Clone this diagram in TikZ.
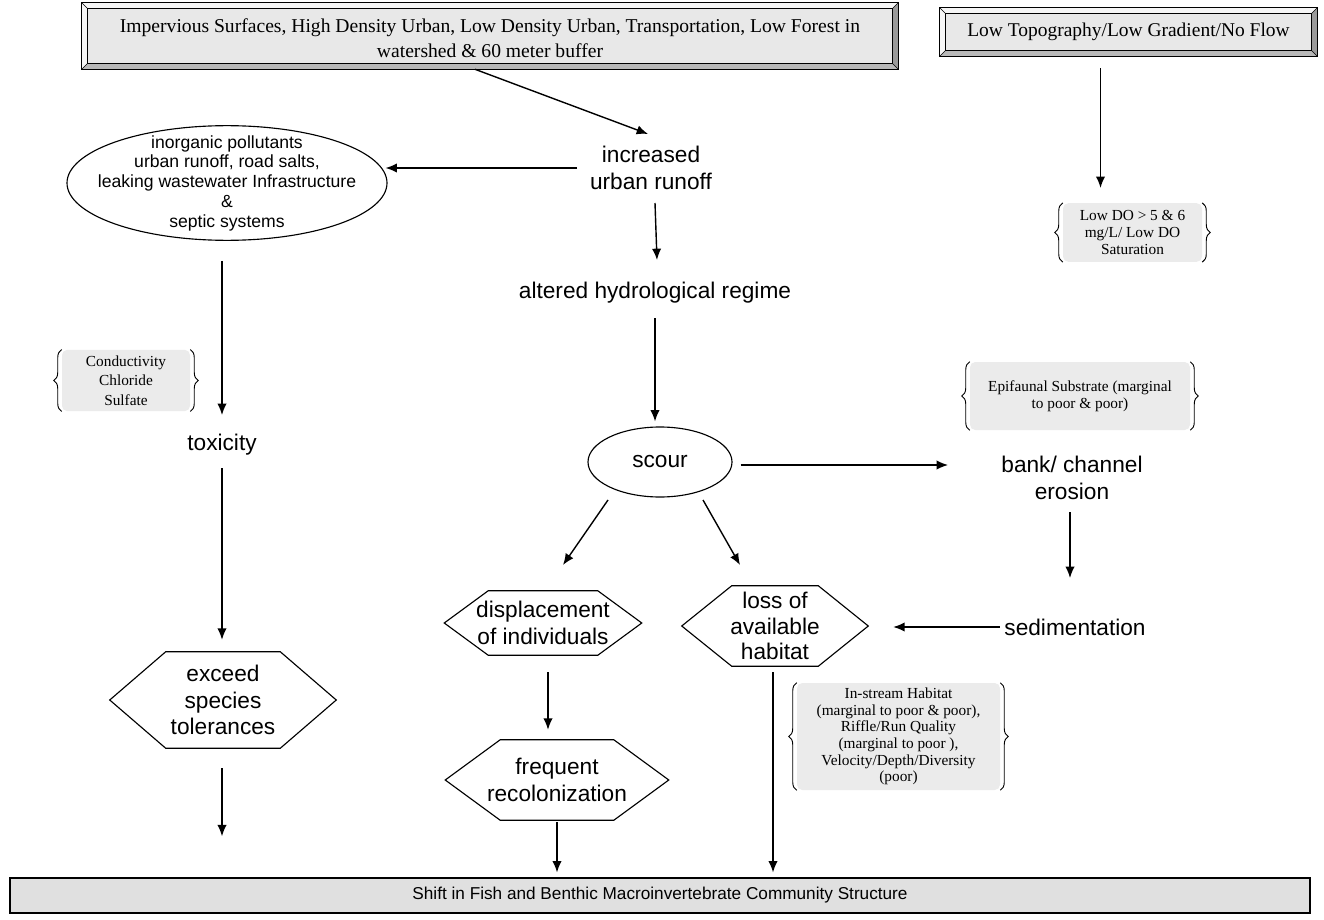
\documentclass[tikz,border=0pt]{standalone}
\usepackage{fontspec}
\setmainfont{Liberation Serif}
\newfontfamily\arial{Liberation Sans}
\usetikzlibrary{arrows.meta,calc,decorations.pathreplacing,shapes.geometric}
\definecolor{face}{HTML}{E8E8E8}
\definecolor{bevlight}{HTML}{F6F6F6}
\definecolor{bevmid}{HTML}{B8B8B8}
\definecolor{bevdark}{HTML}{9A9A9A}
\definecolor{bracefill}{HTML}{EBEBEB}
\definecolor{botfill}{HTML}{E0E0E0}
\newcommand\bevelize[1]{%
  \fill[bevlight] (#1.north west) -- (#1.north east) -- ($(#1.north east)+(-6,6)$) -- ($(#1.north west)+(6,6)$) -- cycle;
  \fill[bevlight] (#1.north west) -- ($(#1.north west)+(6,6)$) -- ($(#1.south west)+(6,-6)$) -- (#1.south west) -- cycle;
  \fill[bevdark] (#1.north east) -- (#1.south east) -- ($(#1.south east)+(-6,-6)$) -- ($(#1.north east)+(-6,6)$) -- cycle;
  \fill[bevmid] (#1.south west) -- (#1.south east) -- ($(#1.south east)+(-6,-6)$) -- ($(#1.south west)+(6,-6)$) -- cycle;
  \draw[line width=0.8pt] (#1.north west) rectangle (#1.south east);
  \draw[line width=0.5pt] ($(#1.north west)+(6,6)$) rectangle ($(#1.south east)+(-6,-6)$);
  \draw[line width=0.5pt] (#1.north west) -- ($(#1.north west)+(6,6)$)
     (#1.north east) -- ($(#1.north east)+(-6,6)$)
     (#1.south west) -- ($(#1.south west)+(6,-6)$)
     (#1.south east) -- ($(#1.south east)+(-6,-6)$);
}
\newcommand\hexa[2]{%
  \draw[line width=0.85pt] (#1.west) -- ($(#1.north west)+(#2,0)$) -- ($(#1.north east)+(-#2,0)$)
    -- (#1.east) -- ($(#1.south east)+(-#2,0)$) -- ($(#1.south west)+(#2,0)$) -- cycle;
}
\newcommand\bracify[1]{%
  \draw[line width=0.7pt,decorate,decoration={brace,amplitude=6pt}] ($(#1.south west)+(0,0)$) -- (#1.north west);
  \draw[line width=0.7pt,decorate,decoration={brace,amplitude=6pt}] (#1.north east) -- (#1.south east);
}
\begin{document}
\begin{tikzpicture}[x=0.75pt,y=-0.75pt,
  arr/.style={line width=1.05pt,-{Latex[length=8.5pt,width=7pt]}},
  lbl/.style={font=\arial\fontsize{17}{20}\selectfont,align=center,inner sep=2pt},
  hexnode/.style={font=\arial\fontsize{17}{20}\selectfont,align=center,inner sep=0pt},
  bevelnode/.style={fill=face,inner sep=0pt,align=center},
  bracebox/.style={fill=bracefill,rounded corners=4pt,inner sep=0pt,align=center,
     font=\fontsize{11.5}{12.5}\selectfont}]
\useasboundingbox (0,0) rectangle (1324,920);
\fill[white] (0,0) rectangle (1324,920);

% top boxes
\node[bevelnode,minimum width=612pt,minimum height=49.5pt] (top) at (490,36) {};
\bevelize{top}
\node[align=center,font=\fontsize{14.7}{18.5}\selectfont,inner sep=0pt] (toptext) at (490,38)
  {Impervious Surfaces, High Density Urban, Low Density Urban, Transportation, Low Forest in\\ watershed \& 60 meter buffer};

\node[bevelnode,minimum width=282.75pt,minimum height=36pt] (topr) at (1128.5,32) {};
\bevelize{topr}
\node[font=\fontsize{14.6}{17}\selectfont,inner sep=0pt] (toprtext) at (topr) {Low Topography/Low Gradient/No Flow};

% left column
\node[draw,line width=0.85pt,ellipse,minimum width=240pt,minimum height=86pt,inner sep=0pt] (ell) at (227,183) {};
\node[align=center,font=\arial\fontsize{13.2}{14.8}\selectfont,inner sep=0pt] (elltext) at (227,183)
  {inorganic pollutants\\ urban runoff, road salts,\\ leaking wastewater Infrastructure\\ \&\\ septic systems};

\node[bracebox,minimum width=96pt,minimum height=46pt,font=\fontsize{11.5}{14.5}\selectfont] (cond) at (126,380.5)
  {Conductivity\\ Chloride\\ Sulfate};
\bracify{cond}

\node[lbl] (tox) at (222,445) {toxicity};
\node[hexnode,minimum width=169.5pt,minimum height=72pt] (exc) at (223,700) {exceed\\ species\\ tolerances};
\hexa{exc}{56}

% middle column
\node[lbl] (incr) at (651,168) {increased\\ urban runoff};
\node[lbl] (alt) at (655,293) {altered hydrological regime};
\node[draw,line width=0.85pt,ellipse,minimum width=108pt,minimum height=52.5pt,inner sep=0pt,
      font=\arial\fontsize{17}{20}\selectfont] (scour) at (660,462) {scour};
\node[hexnode,minimum width=147.75pt,minimum height=48pt] (disp) at (543,623) {displacement\\ of individuals};
\hexa{disp}{44}
\node[hexnode,minimum width=139.5pt,minimum height=60pt,font=\arial\fontsize{17}{19}\selectfont] (loss) at (775,626) {loss of\\ available\\ habitat};
\hexa{loss}{50}
\node[hexnode,minimum width=167.25pt,minimum height=60pt] (freq) at (557,780) {frequent\\ recolonization};
\hexa{freq}{55}

% right column
\node[bracebox,minimum width=104.25pt,minimum height=44pt] (lowdo) at (1132.5,232.5)
  {Low DO > 5 \& 6\\ mg/L/ Low DO\\ Saturation};
\bracify{lowdo}
\node[bracebox,minimum width=165pt,minimum height=51pt] (epi) at (1080,396)
  {Epifaunal Substrate (marginal\\ to poor \& poor)};
\bracify{epi}
\node[lbl] (bank) at (1072,478) {bank/ channel\\ erosion};
\node[lbl] (sed) at (1075,627) {sedimentation};
\node[bracebox,minimum width=152.25pt,minimum height=80.25pt] (instr) at (898.5,736.5)
  {In-stream Habitat\\ (marginal to poor \& poor),\\ Riffle/Run Quality\\ (marginal to poor ),\\ Velocity/Depth/Diversity\\ (poor)};
\bracify{instr}

% bottom box
\node[draw,line width=0.85pt,fill=botfill,minimum width=975pt,minimum height=26.25pt,inner sep=0pt,
      font=\arial\fontsize{12.9}{15}\selectfont] (bot) at (660,895.5)
  {Shift in Fish and Benthic Macroinvertebrate Community Structure};

% connectors
\draw[arr] ($(top.south)+(-15,0)$) -- ($(incr)+(-3,-34)$);
\draw[arr] ($(incr.west)+(-10,0)$) -- ($(ell.east |- incr.west)+(-2,0)$);
\draw[arr] ($(incr)+(4,35)$) -- ($(alt)+(2,-33)$);
\draw[arr] ($(alt)+(0,25)$) -- ($(scour.north)+(-5,-5)$);
\draw[arr] ($(scour.east)+(8,3)$) -- ($(bank)+(-124,-13)$);
\draw[arr] ($(bank)+(-2,34)$) -- ($(sed)+(-5,-49)$);
\draw[arr] ($(sed.west)+(-2,0)$) -- ($(loss.east)+(25,1)$);
\draw[arr] ($(scour)+(-52,38)$) -- ($(disp)+(20,-58)$);
\draw[arr] ($(scour)+(43,38)$) -- ($(loss)+(-35,-61)$);
\draw[arr] ($(disp.south)+(5,17)$) -- ($(freq.north)+(-9,-10)$);
\draw[arr] ($(freq.south)+(0,2)$) -- ($(bot.north)+(-103,-5)$);
\draw[arr] ($(loss.south)+(-2,6)$) -- ($(bot.north)+(113,-5)$);
\draw[arr] ($(ell.south)+(-5,20)$) -- ($(tox)+(0,-30)$);
\draw[arr] ($(tox)+(0,23)$) -- ($(exc.north)+(-1,-12)$);
\coordinate (excend) at ($(exc.south)+(-1,88)$);
\draw[arr] ($(exc.south)+(-1,20)$) -- (excend);
\draw[arr] ($(topr.south)+(-28,12)$) -- ($(lowdo.north)+(-32,-15)$);
\end{tikzpicture}
\end{document}
